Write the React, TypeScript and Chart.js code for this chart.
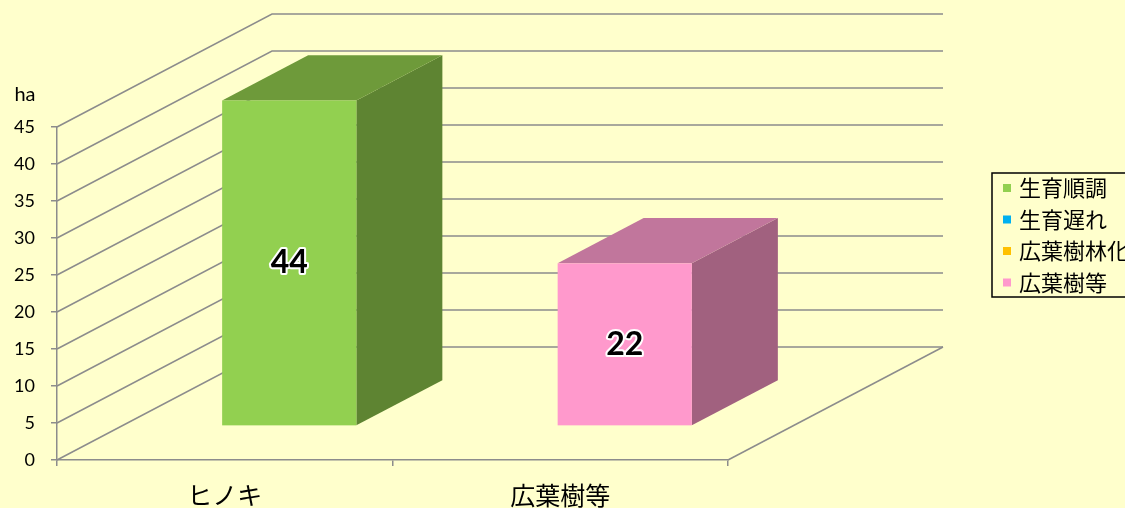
import React, { useEffect, useRef } from "react";
import { Chart, registerables } from "chart.js";

Chart.register(...registerables);

const categories = ["ヒノキ", "広葉樹等"];
const seriesNames = ["生育順調", "生育遅れ", "広葉樹林化", "広葉樹等"];
const seriesGood = [44, null];
const seriesLate = [null, null];
const seriesBroadleafized = [null, null];
const seriesBroadleaf = [null, 22];
const yTicks = [0, 5, 10, 15, 20, 25, 30, 35, 40, 45];
const unitLabel = "ha";

const frontColors = ["#92D050", "#00B0F0", "#FFC000", "#FF99CC"];
const topColors = ["#6E9A3A", "#0085B5", "#C09100", "#C1769C"];
const sideColors = ["#5E8432", "#00729C", "#A67D00", "#A1617F"];

const BG = "#FFFFCC";
const GRID = "#8C8C8C";
const DX = 215;
const DY = 113;
const BAR_FRONT = 0.3;
const BAR_DEPTH = 0.4;

const threeD = {
  id: "threeD",
  beforeDraw(chart: any) {
    const ctx = chart.ctx;
    ctx.save();
    ctx.fillStyle = BG;
    ctx.fillRect(0, 0, chart.width, chart.height);
    ctx.restore();
  },
  beforeDatasetsDraw(chart: any) {
    const ctx = chart.ctx;
    const { left, right, bottom } = chart.chartArea;
    const ys = chart.scales.y;
    ctx.save();
    ctx.strokeStyle = GRID;
    ctx.lineWidth = 1.5;
    ys.ticks.forEach((t: any) => {
      const y = ys.getPixelForValue(t.value);
      ctx.beginPath();
      ctx.moveTo(left, y);
      ctx.lineTo(left + DX, y - DY);
      ctx.lineTo(right + DX, y - DY);
      ctx.stroke();
    });
    ctx.beginPath();
    ctx.moveTo(right, bottom);
    ctx.lineTo(right + DX, bottom - DY);
    ctx.stroke();
    ctx.restore();

    const fx = DX * BAR_FRONT;
    const fy = DY * BAR_FRONT;
    const dx = DX * BAR_DEPTH;
    const dy = DY * BAR_DEPTH;
    const labels: any[] = [];
    chart.data.datasets.forEach((ds: any, di: number) => {
      const meta = chart.getDatasetMeta(di);
      meta.data.forEach((el: any, i: number) => {
        const v = ds.data[i];
        if (v === null || v === undefined || v === 0) return;
        const p = el.getProps(["x", "y", "base", "width"], true);
        if (!isFinite(p.y) || !isFinite(p.base)) return;
        const x0 = p.x - p.width / 2 + fx;
        const x1 = p.x + p.width / 2 + fx;
        const yT = Math.min(p.y, p.base) - fy;
        const yB = Math.max(p.y, p.base) - fy;
        ctx.save();
        ctx.fillStyle = sideColors[di];
        ctx.beginPath();
        ctx.moveTo(x1, yT);
        ctx.lineTo(x1 + dx, yT - dy);
        ctx.lineTo(x1 + dx, yB - dy);
        ctx.lineTo(x1, yB);
        ctx.closePath();
        ctx.fill();
        ctx.fillStyle = topColors[di];
        ctx.beginPath();
        ctx.moveTo(x0, yT);
        ctx.lineTo(x1, yT);
        ctx.lineTo(x1 + dx, yT - dy);
        ctx.lineTo(x0 + dx, yT - dy);
        ctx.closePath();
        ctx.fill();
        ctx.fillStyle = frontColors[di];
        ctx.fillRect(x0, yT, x1 - x0, yB - yT);
        ctx.restore();
        labels.push({ text: String(v), x: (x0 + x1) / 2, y: (yT + yB) / 2 });
      });
    });
    ctx.save();
    ctx.font = "bold 32px Lato";
    ctx.textAlign = "center";
    ctx.textBaseline = "middle";
    ctx.lineJoin = "round";
    labels.forEach((l) => {
      ctx.strokeStyle = "#FFFFFF";
      ctx.lineWidth = 4;
      ctx.strokeText(l.text, l.x, l.y);
      ctx.fillStyle = "#000000";
      ctx.fillText(l.text, l.x, l.y);
    });
    ctx.restore();
    return false;
  },
  afterDraw(chart: any) {
    const ctx = chart.ctx;
    const { top } = chart.chartArea;
    const ys = chart.scales.y;
    ctx.save();
    ctx.fillStyle = "#000";
    ctx.font = "20px Lato";
    ctx.textAlign = "center";
    ctx.textBaseline = "middle";
    ctx.fillText(unitLabel, ys.left + 25, top - 32);
    ctx.restore();

    const lx = 992;
    const ly = 173;
    const rowH = 31.5;
    ctx.save();
    ctx.strokeStyle = "#000";
    ctx.lineWidth = 1.5;
    ctx.strokeRect(lx, ly, 200, 124);
    ctx.font = "22px 'Noto Sans CJK JP'";
    ctx.textBaseline = "middle";
    ctx.textAlign = "left";
    chart.data.datasets.forEach((ds: any, i: number) => {
      const cy = ly + 15 + i * rowH;
      ctx.fillStyle = frontColors[i];
      ctx.fillRect(lx + 11, cy - 4, 8, 8);
      ctx.fillStyle = "#000";
      ctx.fillText(ds.label, lx + 27, cy);
    });
    ctx.restore();
  },
};

export default function App() {
  const ref = useRef<HTMLCanvasElement | null>(null);
  useEffect(() => {
    if (!ref.current) return;
    const seriesData = [seriesGood, seriesLate, seriesBroadleafized, seriesBroadleaf];
    const chart = new Chart(ref.current, {
      type: "bar",
      data: {
        labels: categories,
        datasets: seriesNames.map((name, i) => ({
          label: name,
          data: seriesData[i] as any,
          backgroundColor: frontColors[i],
          barPercentage: 0.4,
          categoryPercentage: 1,
        })),
      },
      options: {
        animation: false,
        responsive: false,
        layout: { padding: { left: 0, right: 397, top: 127, bottom: 0 } },
        plugins: { legend: { display: false }, tooltip: { enabled: false } },
        scales: {
          x: {
            stacked: true,
            grid: { drawOnChartArea: false, drawTicks: true, tickLength: 6, color: GRID, lineWidth: 1.5, offset: true },
            border: { display: true, color: GRID, width: 1.5 },
            ticks: { color: "#000", font: { family: "'Noto Sans CJK JP'", size: 25 }, padding: 14 },
            afterFit: (s: any) => { s.height = 48; },
          },
          y: {
            stacked: true,
            min: 0,
            max: 45,
            afterBuildTicks: (s: any) => { s.ticks = yTicks.map((v) => ({ value: v })); },
            grid: { drawOnChartArea: false, drawTicks: true, tickLength: 6, color: GRID, lineWidth: 1.5 },
            border: { display: true, color: GRID, width: 1.5 },
            ticks: { color: "#000", font: { family: "Lato", size: 18 }, padding: 16 },
            afterFit: (s: any) => { s.width = 57; },
          },
        },
      },
      plugins: [threeD],
    });
    return () => chart.destroy();
  }, []);
  return (
    <div style={{ position: "absolute", left: 0, top: 0, width: 1125, height: 508, overflow: "hidden" }}>
      <canvas ref={ref} width={1125} height={508} style={{ display: "block" }} />
    </div>
  );
}
